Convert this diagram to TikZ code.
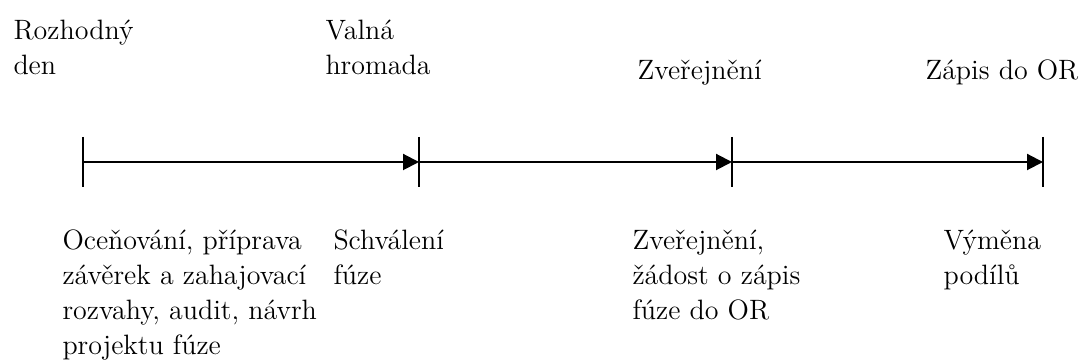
\documentclass[tikz,border=0pt]{standalone}
\usepackage{fontspec}
\usetikzlibrary{arrows.meta}
\begin{document}
\begin{tikzpicture}[x=0.4pt,y=-0.4pt,
  lbl/.style={anchor=base west,inner sep=0pt,align=left,font=\rmfamily\fontsize{11.2}{14}\selectfont},
  arr/.style={line width=0.8pt,-{Triangle[length=6.4pt,width=6.4pt]}},
  tick/.style={line width=0.5pt}]
\useasboundingbox (0,0) rectangle (1090,364);
\coordinate (t1) at (83,162);
\coordinate (t2) at (419,162);
\coordinate (t3) at (732,162);
\coordinate (t4) at (1043,162);
\foreach \t in {t1,t2,t3,t4}{\draw[tick] (\t) ++(0,-25) -- ++(0,50);}
\draw[arr] (t1) -- (t2);
\draw[arr] (t2) -- (t3);
\draw[arr] (t3) -- (t4);
% base anchor = baseline of the last line (line pitch 35px)
\node[lbl] (top1) at (13,75) {Rozhodný\\den};
\node[lbl] (top2) at (325,75) {Valná\\hromada};
\node[lbl] (top3) at (637,80) {Zveřejnění};
\node[lbl] (top4) at (925,80) {Zápis do OR};
\node[lbl] (bot1) at (62,355) {Oceňování, příprava\\závěrek a zahajovací\\rozvahy, audit, návrh\\projektu fúze};
\node[lbl] (bot2) at (333,285) {Schválení\\fúze};
\node[lbl] (bot3) at (632,320) {Zveřejnění,\\žádost o zápis\\fúze do OR};
\node[lbl] (bot4) at (943,285) {Výměna\\podílů};
\end{tikzpicture}
\end{document}
